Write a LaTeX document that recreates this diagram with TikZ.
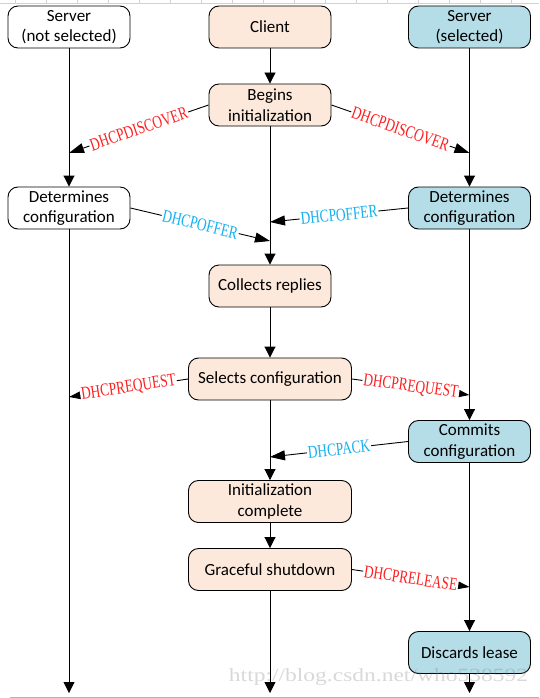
\documentclass[tikz,border=0pt]{standalone}
\usepackage{fontspec}
\setmainfont{Carlito}
\newfontfamily\msgfont[FakeStretch=0.74]{Liberation Serif}
\newfontfamily\wmfont{Liberation Serif}
\usepackage{tikz}
\usetikzlibrary{arrows.meta}
\definecolor{clientfill}{RGB}{252,233,219}
\definecolor{serverfill}{RGB}{180,221,231}
\definecolor{msgred}{RGB}{255,30,30}
\definecolor{msgblue}{RGB}{20,176,240}

\begin{document}
\begin{tikzpicture}[
  x=1pt, y=-1pt,
  box/.style={rectangle, draw=black, rounded corners=10pt, minimum height=42pt, minimum width=122pt, align=center, inner sep=0pt, font=\fontsize{17}{20.5}\selectfont, fill=#1, line width=0.9pt},
  widebox/.style={box=#1, minimum width=163pt},
  flow/.style={-{Triangle[length=11pt, width=11pt]}, line width=0.9pt},
  msgarrow/.style={-{Triangle[length=15pt, width=10pt]}, line width=0.9pt},
  lbl/.style={sloped, fill=white, inner sep=1pt, text=#1, font=\msgfont\fontsize{18}{18}\selectfont}
]
\useasboundingbox[fill=white] (0,0) rectangle (539,698);

% sheet grid at the top, line at the bottom
\draw[gray!35, line width=0.6pt] (0,3) -- (539,3);
\foreach \gx in {15,46,...,511}
  \draw[gray!35, line width=0.6pt] (\gx,0) -- (\gx,3);
\draw[gray!60, line width=1pt] (10,697) -- (539,697);

% Top row - the three parties
\node[box=white] (srvN) at (69,27) {Server\\(not selected)};
\node[box=clientfill] (client) at (270,27) {Client};
\node[box=serverfill] (srvS) at (469.5,27) {Server\\(selected)};

% Client steps
\node[box=clientfill] (begins) at (270,105) {Begins\\initialization};
\node[box=clientfill] (collects) at (270,286) {Collects replies};
\node[widebox=clientfill] (selects) at (270,379) {Selects configuration};
\node[widebox=clientfill] (initdone) at (270,501.5) {Initialization\\complete};
\node[widebox=clientfill] (shutdown) at (270,569.5) {Graceful shutdown};

% Server steps
\node[box=white] (detN) at (69,208) {Determines\\configuration};
\node[box=serverfill] (detS) at (469.5,208) {Determines\\configuration};
\node[box=serverfill] (commits) at (469.5,441.5) {Commits\\configuration};
\node[box=serverfill] (discards) at (469.5,652.5) {Discards lease};

% Points on the lifelines
\coordinate (discN) at (69,153);
\coordinate (discS) at (469.5,153);
\coordinate (offC1) at (270,241);
\coordinate (offC2) at (270,222);
\coordinate (reqN) at (69,397);
\coordinate (reqS) at (469.5,395);
\coordinate (ackC) at (270,457);
\coordinate (relS) at (469.5,587);
\coordinate (endN) at (69,693);
\coordinate (endC) at (270,693);
\coordinate (endS) at (469.5,693);

% Lifelines
\draw[flow] (srvN) -- (detN);
\draw[flow] (detN) -- (endN);
\draw[flow] (client) -- (begins);
\draw[flow] (begins) -- (collects);
\draw[flow] (collects) -- (selects);
\draw[flow] (selects) -- (initdone);
\draw[flow] (initdone) -- (shutdown);
\draw[flow] (shutdown) -- (endC);
\draw[flow] (srvS) -- (detS);
\draw[flow] (detS) -- (commits);
\draw[flow] (commits) -- (discards);
\draw[flow] (discards) -- (endS);

% Messages
\draw[msgarrow] (begins.west) -- node[lbl=msgred] {DHCPDISCOVER} (discN);
\draw[msgarrow] (begins.east) -- node[lbl=msgred] {DHCPDISCOVER} (discS);
\draw[msgarrow] (detN.east) -- node[lbl=msgblue] {DHCPOFFER} (offC1);
\draw[msgarrow] (detS.west) -- node[lbl=msgblue] {DHCPOFFER} (offC2);
\draw[msgarrow] (selects.west) -- node[lbl=msgred] {DHCPREQUEST} (reqN);
\draw[msgarrow] (selects.east) -- node[lbl=msgred] {DHCPREQUEST} (reqS);
\draw[msgarrow] (commits.west) -- node[lbl=msgblue] {DHCPACK} (ackC);
\draw[msgarrow] (shutdown.east) -- node[lbl=msgred] {DHCPRELEASE} (relS);

% watermark
\node[text=gray, text opacity=0.3, inner sep=0pt] (wmark) at (378.5,677) {\resizebox*{299pt}{17pt}{\wmfont http://blog.csdn.net/who538592}};

\end{tikzpicture}
\end{document}
